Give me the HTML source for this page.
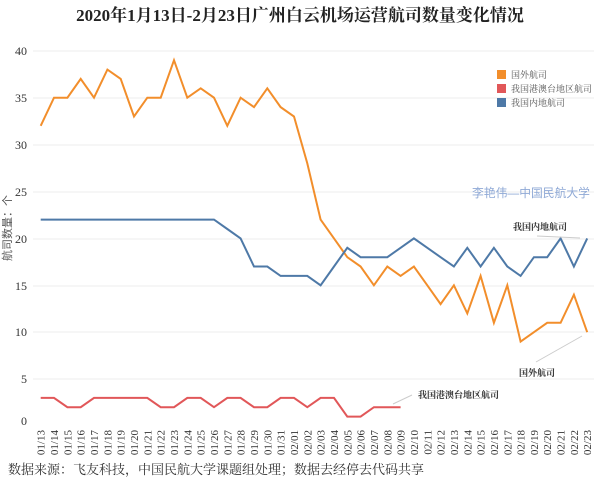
<!DOCTYPE html>
<html><head><meta charset="utf-8"><style>
body{margin:0;background:#fff;}
svg text{font-family:"Liberation Serif","Noto Serif CJK SC",serif;}
</style></head><body>
<svg id="sv" width="600" height="490" xmlns="http://www.w3.org/2000/svg">
<text x="300" y="21" text-anchor="middle" font-size="17" font-weight="bold" fill="#222">2020年1月13日-2月23日广州白云机场运营航司数量变化情况</text>
<g stroke="#eeeeee" stroke-width="1">
<line x1="33" x2="594" y1="51" y2="51"/><line x1="33" x2="594" y1="98" y2="98"/>
<line x1="33" x2="594" y1="145" y2="145"/><line x1="33" x2="594" y1="192" y2="192"/>
<line x1="33" x2="594" y1="239" y2="239"/><line x1="33" x2="594" y1="286" y2="286"/>
<line x1="33" x2="594" y1="332" y2="332"/><line x1="33" x2="594" y1="379" y2="379"/>
</g>
<g font-size="12" fill="#333" text-anchor="end">
<text x="27" y="55">40</text><text x="27" y="102">35</text><text x="27" y="149">30</text>
<text x="27" y="196">25</text><text x="27" y="243">20</text><text x="27" y="290">15</text>
<text x="27" y="336">10</text><text x="27" y="383">5</text><text x="27" y="425">0</text>
</g>
<text transform="translate(11,228) rotate(-90)" text-anchor="middle" font-size="11" fill="#555" style="font-family:'Liberation Sans','Noto Sans CJK SC',sans-serif">航司数量：个</text>
<g id="xl" font-size="11" fill="#333"></g>
<polyline id="pf" fill="none" stroke="#f28e2b" stroke-width="2"/>
<polyline id="pd" fill="none" stroke="#4e79a7" stroke-width="2"/>
<polyline id="ph" fill="none" stroke="#e15759" stroke-width="2"/>
<rect x="497" y="70" width="9" height="9" fill="#f28e2b"/>
<rect x="497" y="84" width="9" height="9" fill="#e15759"/>
<rect x="497" y="98" width="9" height="9" fill="#4e79a7"/>
<g font-size="9" fill="#555"><text x="511" y="78">国外航司</text><text x="511" y="92">我国港澳台地区航司</text><text x="511" y="106">我国内地航司</text></g>
<text x="472" y="197" font-size="11.8" fill="#8fa9d6" style="font-family:'Liberation Sans','Noto Sans CJK SC',sans-serif">李艳伟—中国民航大学</text>
<g stroke="#ccc" stroke-width="1"><line x1="537" y1="236" x2="580" y2="238"/><line x1="536" y1="362" x2="582" y2="336"/><line x1="393" y1="404" x2="412" y2="395"/></g>
<g font-size="9" fill="#333" font-weight="bold"><text x="513" y="230">我国内地航司</text><text x="519" y="376">国外航司</text><text x="418" y="398">我国港澳台地区航司</text></g>
<text x="8" y="474" font-size="13" fill="#333">数据来源：飞友科技，中国民航大学课题组处理；数据去经停去代码共享</text>
</svg>
<script>
var f=[32,35,35,37,35,38,37,33,35,35,39,35,36,35,32,35,34,36,34,33,28,22,20,18,17,15,17,16,17,15,13,15,12,16,11,15,9,10,11,11,14,10];
var d=[22,22,22,22,22,22,22,22,22,22,22,22,22,22,21,20,17,17,16,16,16,15,17,19,18,18,18,19,20,19,18,17,19,17,19,17,16,18,18,20,17,20];
var h=[3,3,2,2,3,3,3,3,3,2,2,3,3,2,3,3,2,2,3,3,2,3,3,1,1,2,2,2];
function X(i){return 40.7+i*13.33}function Y(v){return 426-v*9.38}
function pts(a){return a.map(function(v,i){return X(i).toFixed(1)+","+Y(v).toFixed(1)}).join(" ")}
document.getElementById('pf').setAttribute('points',pts(f));
document.getElementById('pd').setAttribute('points',pts(d));
document.getElementById('ph').setAttribute('points',pts(h));
var g=document.getElementById('xl'),NS="http://www.w3.org/2000/svg";
for(var i=0;i<42;i++){var dt=new Date(2020,0,13+i);var m=("0"+(dt.getMonth()+1)).slice(-2),dd=("0"+dt.getDate()).slice(-2);
var t=document.createElementNS(NS,"text");
t.setAttribute("transform","translate("+(X(i)+4).toFixed(1)+",430) rotate(-90)");
t.setAttribute("text-anchor","end");
t.textContent=m+"/"+dd;g.appendChild(t);}
</script>
</body></html>
